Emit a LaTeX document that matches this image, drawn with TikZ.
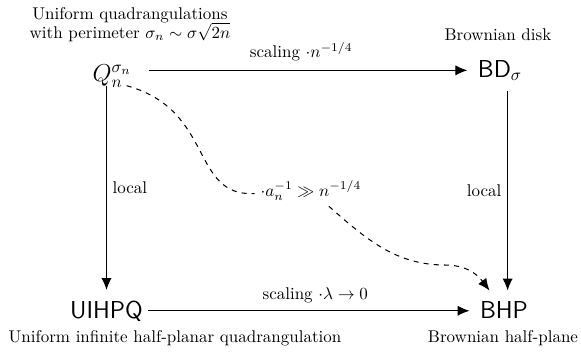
\documentclass[tikz,border=0pt]{standalone}
\usetikzlibrary{arrows.meta}
\begin{document}
\begin{tikzpicture}[x=0.5882pt,y=-0.5882pt,
  arr/.style={-{Latex[length=7pt,width=6pt]}, line width=0.6pt},
  big/.style={font=\Large\sffamily, inner sep=6pt}]
\useasboundingbox (0,0) rectangle (581,353);
% main objects
\node[font=\Large, inner sep=2pt, anchor=base] (Q) at (112,81) {$Q_n^{\sigma_n}$};
\node[big, anchor=base] (BD) at (500,77) {BD$_\sigma$};
\node[big, anchor=base] (U) at (106.5,318) {UIHPQ};
\node[big, anchor=base] (BHP) at (504,318) {BHP};
% descriptions
\node[anchor=north, align=center] (tQ) at (130,1.5) {Uniform quadrangulations\\[-1pt] with perimeter $\sigma_n\sim\sigma\sqrt{2n}$};
\node[anchor=base] (tBD) at (498,40) {Brownian disk};
\node[anchor=base] (tU) at (175,342) {Uniform infinite half-planar quadrangulation};
\node[anchor=base] (tBHP) at (503,342) {Brownian half-plane};
\node[anchor=base] (lab) at (311,196) {$\cdot a_n^{-1}\gg n^{-1/4}$};
% arrows
\draw[arr, shorten <=8pt] (Q.east |- BD.west) -- (BD.west)
  node[midway, above=2pt] {scaling $\cdot n^{-1/4}$};
\draw[arr] ([xshift=-3pt]U.east) -- (U.east -| BHP.west)
  node[pos=0.52, above=1pt] {scaling $\cdot\lambda\to0$};
\draw[arr] ([yshift=3pt]Q.south -| U.north) -- (U.north)
  node[midway, right] {local};
\draw[arr] ([xshift=4.5pt]BD.south) -- ([xshift=4.5pt]BD.south |- BHP.north)
  node[midway, left] {local};
\draw[arr, dashed] ([xshift=-5pt,yshift=3pt]Q.south east)
  .. controls (215,110) and (190,197) .. (lab)
  .. controls (365,238) and (395,265) .. (445,265)
  .. controls (470,265) and (480,278) .. (BHP);
\end{tikzpicture}
\end{document}
